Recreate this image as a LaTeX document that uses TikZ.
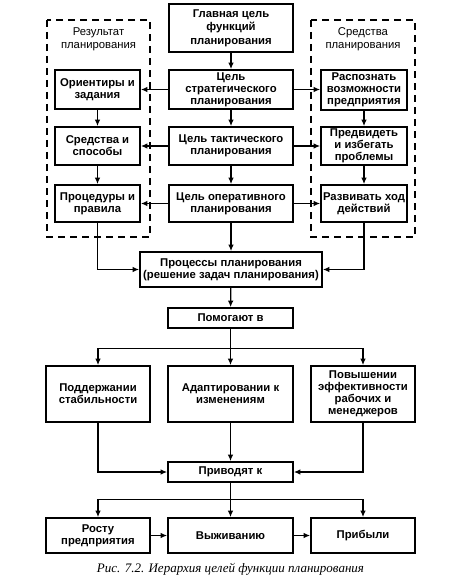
\documentclass[tikz,border=0pt]{standalone}
\usepackage{fontspec}
\setmainfont{Liberation Sans}
\newfontfamily\capfont{Liberation Serif}
\usetikzlibrary{arrows.meta}
\begin{document}
\begin{tikzpicture}[x=1pt,y=-1pt,
    box/.style={draw,line width=1.6pt,align=center,inner sep=1pt,
      font=\fontsize{11.3}{12}\selectfont\bfseries},
    arr/.style={line width=1.3pt,-{Latex[length=6.5pt,width=5.5pt]}}]
    \useasboundingbox (0,0) rectangle (458,588);
    % frames
    \draw[line width=1.5pt,dash pattern=on 7pt off 5pt] (47,20) rectangle (150,237);
    \draw[line width=1.5pt,dash pattern=on 7pt off 5pt] (311,20) rectangle (415,237);
    \node[align=center,font=\fontsize{11.3}{13}\selectfont] (restitle) at (98.5,39) {Результат\\планирования};
    \node[align=center,font=\fontsize{11.3}{13}\selectfont] (sredtitle) at (363,39) {Средства\\планирования};
    % centre column
    \node[box,font=\fontsize{11.3}{13.5}\selectfont\bfseries,minimum width=124pt,minimum height=48pt] (main) at (231,28) {Главная цель\\функций\\планирования};
    \node[box,minimum width=124pt,minimum height=39pt] (strat) at (231,89.5) {Цель\\стратегического\\планирования};
    \node[box,minimum width=124pt,minimum height=38pt] (tact) at (231,146) {Цель тактического\\планирования};
    \node[box,minimum width=124pt,minimum height=37pt] (oper) at (231,203.5) {Цель оперативного\\планирования};
    % left column
    \node[box,minimum width=85pt,minimum height=39pt] (orient) at (97.5,89.5) {Ориентиры и\\задания};
    \node[box,minimum width=85pt,minimum height=38pt] (sposob) at (97.5,146) {Средства и\\способы};
    \node[box,minimum width=85pt,minimum height=37pt] (proced) at (97.5,203.5) {Процедуры и\\правила};
    % right column
    \node[box,minimum width=86pt,minimum height=40pt] (raspoz) at (364,90) {Распознать\\возможности\\предприятия};
    \node[box,minimum width=86pt,minimum height=38pt] (predv) at (364,146) {Предвидеть\\и избегать\\проблемы};
    \node[box,minimum width=86pt,minimum height=37pt] (razv) at (364,203.5) {Развивать ход\\действий};
    % lower part
    \node[box,minimum width=182pt,minimum height=35pt] (proc) at (231,269.5) {Процессы планирования\\(решение задач планирования)};
    \node[box,minimum width=125pt,minimum height=20pt] (pom) at (230.5,318) {Помогают в};
    \node[box,minimum width=104pt,minimum height=56pt] (stab) at (98,394) {Поддержании\\стабильности};
    \node[box,minimum width=125pt,minimum height=56pt] (adapt) at (230.5,394) {Адаптировании к\\изменениям};
    \node[box,minimum width=104pt,minimum height=56pt] (effekt) at (363,394) {Повышении\\эффективности\\рабочих и\\менеджеров};
    \node[box,minimum width=125pt,minimum height=20pt] (priv) at (230.5,472) {Приводят к};
    \node[box,minimum width=104pt,minimum height=35pt] (rost) at (98,535.5) {Росту\\предприятия};
    \node[box,minimum width=125pt,minimum height=35pt] (vyzh) at (230.5,535.5) {Выживанию};
    \node[box,minimum width=104pt,minimum height=35pt] (prib) at (363,535.5) {Прибыли};
    \node[font=\capfont\itshape\fontsize{13}{15}\selectfont] (caption) at (230.5,569) {Рис. 7.2. Иерархия целей функции планирования};
    % arrows
    \draw[arr] (main) -- (strat);
    \draw[arr] (strat) -- (tact);
    \draw[arr] (tact) -- (oper);
    \draw[arr] (oper) -- (proc);
    \draw[arr] (strat) -- (orient);
    \draw[arr] (tact) -- (sposob);
    \draw[arr] (oper) -- (proced);
    \draw[arr] (strat.east) -- (raspoz.west |- strat.east);
    \draw[arr] (tact) -- (predv);
    \draw[arr] (oper) -- (razv);
    \draw[arr] (orient) -- (sposob);
    \draw[arr] (sposob) -- (proced);
    \draw[arr] (raspoz) -- (predv);
    \draw[arr] (predv) -- (razv);
    \draw[arr] (proced.south) |- (proc.west);
    \draw[arr] (razv.south) |- (proc.east);
    \draw[arr] (proc) -- (pom);
    \draw[arr] (pom) -- (adapt);
    \draw[arr] (pom.south) -- ++(0,20) -| (stab.north);
    \draw[arr] (pom.south) -- ++(0,20) -| (effekt.north);
    \draw[arr] (stab.south) |- (priv.west);
    \draw[arr] (adapt) -- (priv);
    \draw[arr] (effekt.south) |- (priv.east);
    \draw[arr] (priv) -- (vyzh);
    \draw[arr] (priv.south) -- ++(0,17) -| (rost.north);
    \draw[arr] (priv.south) -- ++(0,17) -| (prib.north);
    \draw[arr] (rost) -- (vyzh);
    \draw[arr] (vyzh) -- (prib);
  \end{tikzpicture}
\end{document}
